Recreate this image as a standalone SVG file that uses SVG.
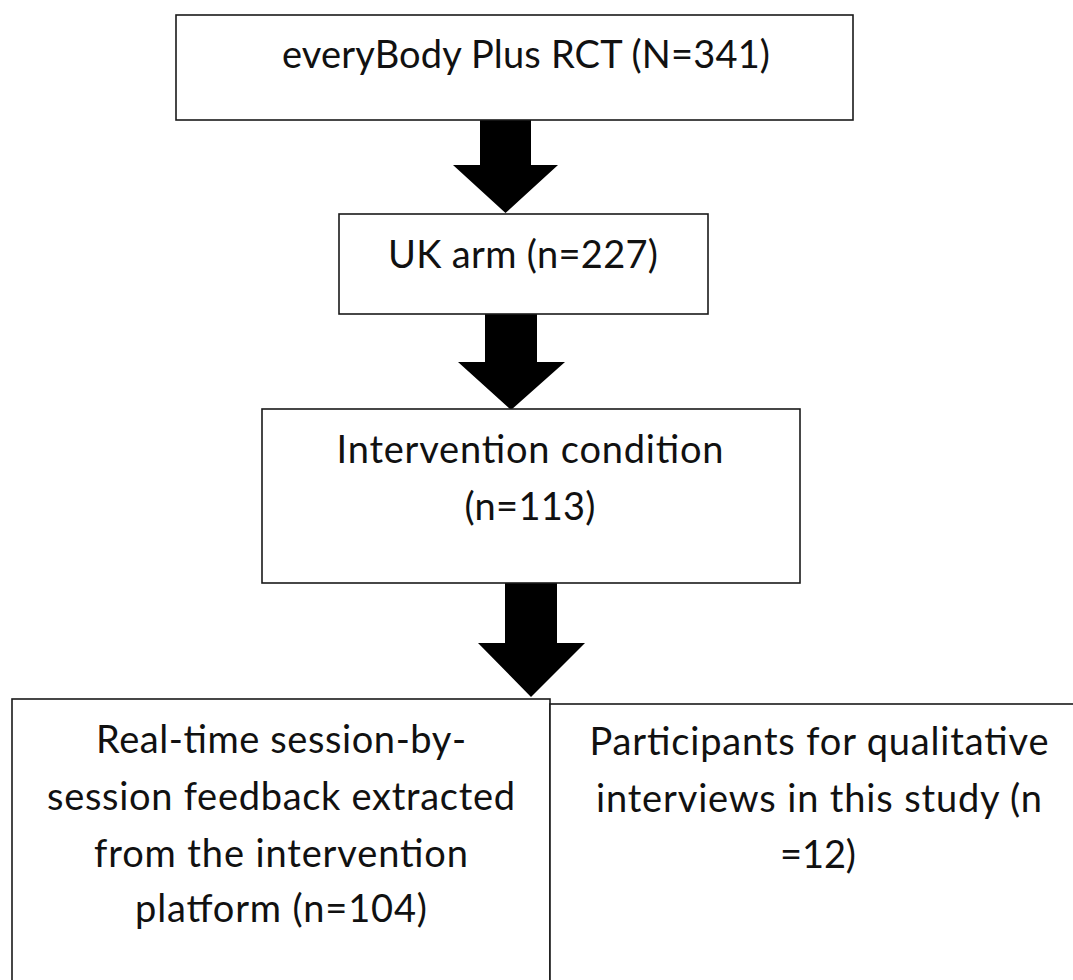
<svg xmlns="http://www.w3.org/2000/svg" width="1073" height="980" viewBox="0 0 1073 980">
<style>
.box{fill:#fff;stroke:#1a1a1a;stroke-width:1.6}
.t{font-family:Lato,"Open Sans","Liberation Sans",sans-serif;font-size:38px;fill:#111;text-anchor:middle}
.arr{fill:#000}
</style>
<rect width="1073" height="980" fill="#fff"/>
<g id="connectors">
<polygon class="arr" points="480,120 531,120 531,165 558,165 505.5,213 453,165 480,165"/>
<polygon class="arr" points="485,314 537,314 537,362 565,362 511,410 458,362 485,362"/>
<polygon class="arr" points="505,583 557,583 557,643 585,643 531,697 478,643 505,643"/>
</g>
<g id="node-rct">
<rect class="box" x="176" y="15" width="677" height="105"/>
<text class="t" x="526" y="68" textLength="488">everyBody Plus RCT (N=341)</text>
</g>
<g id="node-uk">
<rect class="box" x="339" y="214" width="369" height="100"/>
<text class="t" x="523" y="268" textLength="270">UK arm (n=227)</text>
</g>
<g id="node-intervention">
<rect class="box" x="262" y="409" width="538" height="174"/>
<text class="t" x="530" y="463" textLength="387">Intervention condition</text>
<text class="t" x="530" y="520" textLength="131">(n=113)</text>
</g>
<g id="node-feedback">
<rect class="box" x="12" y="699" width="538" height="300"/>
<text class="t" x="281" y="753" textLength="370">Real-time session-by-</text>
<text class="t" x="281" y="810" textLength="468">session feedback extracted</text>
<text class="t" x="281" y="867" textLength="374">from the intervention</text>
<text class="t" x="281" y="922" textLength="292">platform (n=104)</text>
</g>
<g id="node-participants">
<rect class="box" x="550" y="704" width="540" height="300"/>
<text class="t" x="819" y="755" textLength="459">Participants for qualitative</text>
<text class="t" x="819" y="812" textLength="446">interviews in this study (n</text>
<text class="t" x="818" y="868" textLength="76">=12)</text>
</g>
</svg>
